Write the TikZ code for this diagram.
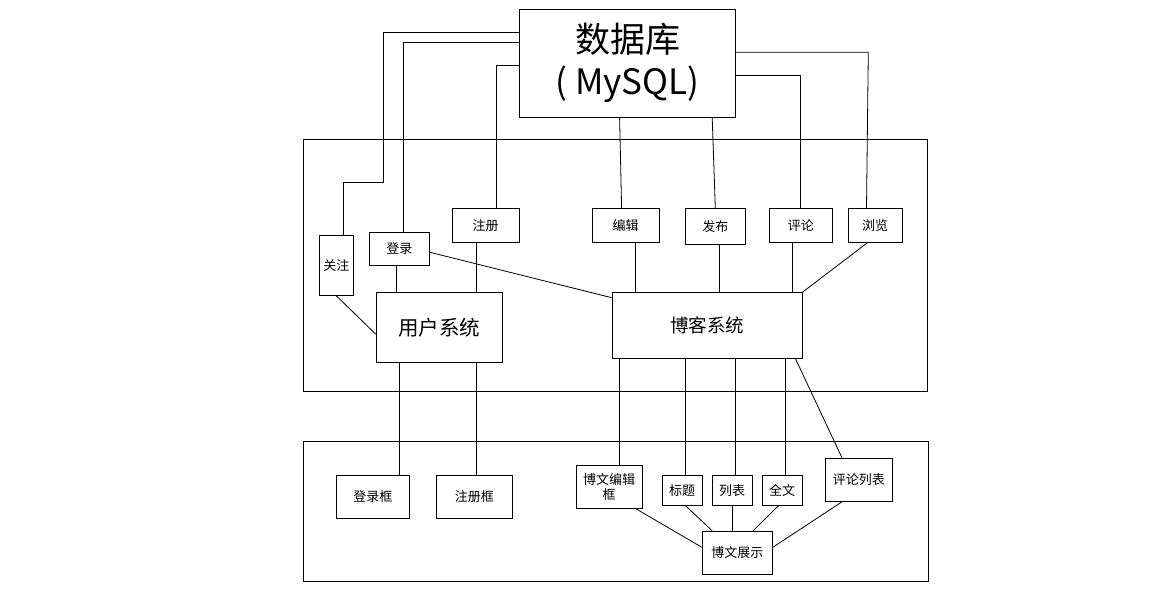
\documentclass[tikz,border=0pt]{standalone}
\usepackage{fontspec}
\newfontfamily\cjk{Noto Sans CJK SC}
\begin{document}
\begin{tikzpicture}[x=1pt, y=-1pt, line width=0.8pt,
	box/.style={draw, line width=1pt, inner sep=0pt, align=center, font=\cjk\fontsize{13}{15}\selectfont},
	bigbox/.style={box, font=\cjk\fontsize{20.5}{24}\selectfont}]
	\useasboundingbox (0,0) rectangle (1164,604);
	\draw [line width=1pt] (303.3,139.3) rectangle (927,391);
	\draw [line width=1pt] (303.3,441.7) rectangle (928.6,581.7);
	\node [box, minimum width=216pt, minimum height=108pt, font=\cjk\fontsize{35}{42}\selectfont] (db) at (627.5,63.3) {数据库\\(\ MySQL)};
	\node [box, minimum width=33.4pt, minimum height=60pt] (gz) at (336.3,265.3) {关注};
	\node [box, minimum width=60pt, minimum height=33pt] (dl) at (399.4,248.8) {登录};
	\node [box, minimum width=67pt, minimum height=34pt] (zc) at (485.7,225.3) {注册};
	\node [box, minimum width=67pt, minimum height=34pt] (bj) at (625.7,225.3) {编辑};
	\node [box, minimum width=60pt, minimum height=36pt] (fb) at (715.3,226.3) {发布};
	\node [box, minimum width=62.8pt, minimum height=34pt] (pl) at (800.8,225.3) {评论};
	\node [box, minimum width=53.8pt, minimum height=34pt] (ll) at (875.1,225.3) {浏览};
	\node [bigbox, minimum width=126pt, minimum height=69.6pt] (yh) at (439.4,327.5) {用户系统};
	\node [bigbox, minimum width=189.8pt, minimum height=65.6pt, font=\cjk\fontsize{18.5}{22}\selectfont] (bk) at (707.1,325.5) {博客系统};
	\node [box, minimum width=73pt, minimum height=43pt] (dlk) at (372.9,496.8) {登录框};
	\node [box, minimum width=76pt, minimum height=43pt] (zck) at (474.3,496.8) {注册框};
	\node [box, minimum width=65.7pt, minimum height=43pt] (bwbj) at (609.2,486.8) {博文编辑\\框};
	\node [box, minimum width=39.6pt, minimum height=30pt] (bt) at (682.2,490.3) {标题};
	\node [box, minimum width=40pt, minimum height=30pt] (lb) at (732.2,490.3) {列表};
	\node [box, minimum width=39.6pt, minimum height=30pt] (qw) at (782.2,490.3) {全文};
	\node [box, minimum width=67pt, minimum height=43pt] (pllb) at (858.8,479.8) {评论列表};
	\node [box, minimum width=70pt, minimum height=43pt] (bwzs) at (737.3,552.8) {博文展示};
	\draw (db.west |- 0,32.3) -| (383.3,182.3) -| (gz.north -| 343.3,0);
	\draw (db.west |- 0,42.3) -| (dl.north -| 403.3,0);
	\draw (db.west |- 0,65.3) -| (zc.north -| 496.3,0);
	\draw (db.south -| 619.6,0) -- (bj.north -| 621.6,0);
	\draw (db.south -| 712.2,0) -- (fb.north);
	\draw (db.east |- 0,75.7) -| (pl.north);
	\draw (db.east |- 0,52.3) -| (868.2,60) -- (ll.north -| 866.5,0);
	\draw (gz.south) -- (yh.west |- 0,334.3);
	\draw (dl.south -| 396.7,0) -- (yh.north -| 396.7,0);
	\draw (zc.south -| 476.3,0) -- (yh.north -| 476.3,0);
	\draw (dl.east |- 0,252.3) -- (bk.west |- 0,297.7);
	\draw (bj.south -| 635.5,0) -- (bk.north -| 635.5,0);
	\draw (fb.south -| 719.6,0) -- (bk.north -| 719.6,0);
	\draw (pl.south -| 792.2,0) -- (bk.north -| 792.2,0);
	\draw (ll.south -| 867.3,0) -- (bk.north east);
	\draw (yh.south -| 399.6,0) -- (dlk.north -| 399.6,0);
	\draw (yh.south -| 476.3,0) -- (zck.north -| 476.3,0);
	\draw (bk.south -| 619.6,0) -- (bwbj.north -| 619.6,0);
	\draw (bk.south -| 685.3,0) -- (bt.north -| 685.3,0);
	\draw (bk.south -| 735.5,0) -- (lb.north -| 735.5,0);
	\draw (bk.south -| 785.7,0) -- (qw.north -| 785.7,0);
	\draw (bk.south -| 795.5,0) -- (pllb.north -| 842,0);
	\draw (bwbj.south -| 636,0) -- (bwzs.west |- 0,547.3);
	\draw (bt.south -| 685.7,0) -- (bwzs.north -| 712.2,0);
	\draw (lb.south -| 732.2,0) -- (bwzs.north -| 732.2,0);
	\draw (qw.south -| 778.4,0) -- (bwzs.north -| 753,0);
	\draw (pllb.south -| 842,0) -- (bwzs.east |- 0,547.3);
\end{tikzpicture}
\end{document}
